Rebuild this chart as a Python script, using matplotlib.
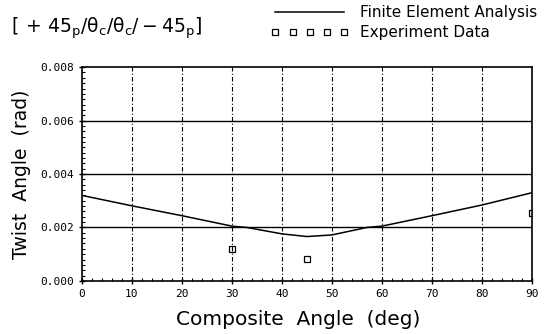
import matplotlib.pyplot as plt
from matplotlib.ticker import MultipleLocator

# Finite element curve
fea_angle = [0, 10, 20, 30, 33, 40, 45, 50, 57, 60, 70, 80, 90]
fea_twist = [0.0032, 0.00281, 0.00244, 0.00205, 0.0020, 0.00176, 0.00166,
             0.00172, 0.0020, 0.00205, 0.00244, 0.00284, 0.0033]

# Experiment points
exp_angle = [30, 45, 90]
exp_twist = [0.00118, 0.00082, 0.00255]

x_ticks = [0, 10, 20, 30, 40, 50, 60, 70, 80, 90]
y_ticks = [0.000, 0.002, 0.004, 0.006, 0.008]

fig = plt.figure(figsize=(5.53, 3.34), dpi=100)
ax = fig.add_axes([0.148, 0.159, 0.814, 0.640])

ax.plot(fea_angle, fea_twist, color="black", lw=1.1, label="Finite Element Analysis")
ax.plot(exp_angle, exp_twist, ls="none", marker="s", ms=4.5, mfc="white",
        mec="black", mew=0.9, label="Experiment Data")

ax.set_xlim(0, 90)
ax.set_ylim(0, 0.008)
ax.set_xticks(x_ticks)
ax.set_yticks(y_ticks)
ax.set_xticklabels([str(t) for t in x_ticks], family="DejaVu Sans Mono", fontsize=8)
ax.set_yticklabels([f"{t:.3f}" for t in y_ticks], family="DejaVu Sans Mono", fontsize=8)
ax.xaxis.set_minor_locator(MultipleLocator(2))
ax.yaxis.set_minor_locator(MultipleLocator(0.0002))
ax.tick_params(which="major", direction="inout", length=5, width=1)
ax.tick_params(which="minor", direction="in", length=2.5, width=0.8)

# grid: solid horizontals, dash-dot verticals
for y in y_ticks[1:-1]:
    ax.axhline(y, color="black", lw=1.0)
for x in x_ticks[1:-1]:
    ax.axvline(x, color="black", lw=0.8, ls=(0, (4, 2, 1, 2)))

for s in ax.spines.values():
    s.set_linewidth(1.2)

ax.set_xlabel("Composite  Angle  (deg)", fontsize=14.5, labelpad=8)
ax.xaxis.label.set_x(0.48)
ax.set_ylabel("Twist  Angle  (rad)", fontsize=13.5, labelpad=6)

fig.text(0.02, 0.915,
         r"$[\,+\,45_\mathrm{p}/\mathrm{\theta}_\mathrm{c}/\mathrm{\theta}_\mathrm{c}/-45_\mathrm{p}]$",
         fontsize=13.5, va="center", ha="left")

fig.legend(loc="upper left", bbox_to_anchor=(0.465, 1.025), frameon=False,
           numpoints=5, handlelength=5.1, handletextpad=0.7, fontsize=11,
           labelspacing=0.3)

fig.savefig("out.png", dpi=100)
